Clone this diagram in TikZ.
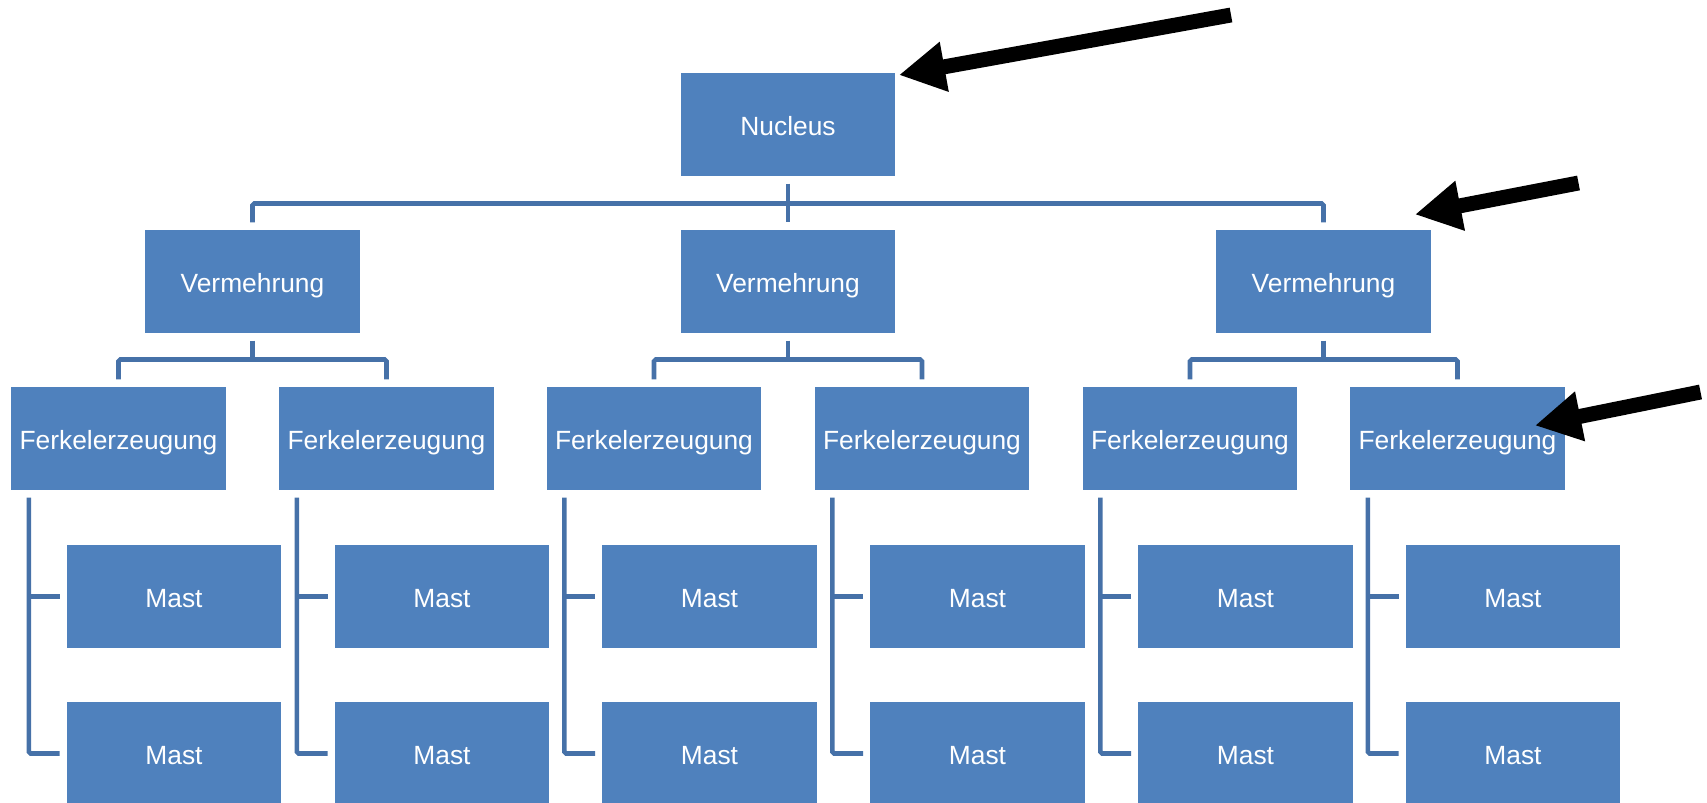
\documentclass[tikz,border=0pt]{standalone}
\usepackage{fontspec}
\setmainfont{Liberation Sans}
\usetikzlibrary{arrows.meta}
\definecolor{boxblue}{HTML}{4F81BD}
\definecolor{lineblue}{HTML}{4671A8}

\begin{document}
\begin{tikzpicture}
\tikzset{b/.style={rectangle,fill=boxblue,draw=white,line width=0.5pt,minimum width=4.31cm,minimum height=2.07cm,inner sep=0pt,text height=12pt,text depth=0pt,text=white,font=\fontsize{15}{18}\selectfont}}
\tikzset{c/.style={draw=lineblue,line width=2.6pt,rounded corners=1pt,shorten <=4pt,shorten >=4pt}}
\tikzset{p/.style={line width=8.5pt,-{Triangle[length=0.92cm,width=0.95cm]}}}

\useasboundingbox (0,0) rectangle (34.14,-16.06);

\path (15.76,-2.49) node[b] (n) {Nucleus};

\path (5.05,-5.63) node[b] (v1) {Vermehrung};
\path (15.76,-5.63) node[b] (v2) {Vermehrung};
\path (26.47,-5.63) node[b] (v3) {Vermehrung};

\path (2.37,-8.77) node[b] (f1) {Ferkelerzeugung};
\path (7.73,-8.77) node[b] (f2) {Ferkelerzeugung};
\path (13.08,-8.77) node[b] (f3) {Ferkelerzeugung};
\path (18.44,-8.77) node[b] (f4) {Ferkelerzeugung};
\path (23.80,-8.77) node[b] (f5) {Ferkelerzeugung};
\path (29.15,-8.77) node[b] (f6) {Ferkelerzeugung};

\path (3.48,-11.93) node[b] (m1a) {Mast};
\path (3.48,-15.07) node[b] (m1b) {Mast};
\path (8.84,-11.93) node[b] (m2a) {Mast};
\path (8.84,-15.07) node[b] (m2b) {Mast};
\path (14.19,-11.93) node[b] (m3a) {Mast};
\path (14.19,-15.07) node[b] (m3b) {Mast};
\path (19.55,-11.93) node[b] (m4a) {Mast};
\path (19.55,-15.07) node[b] (m4b) {Mast};
\path (24.91,-11.93) node[b] (m5a) {Mast};
\path (24.91,-15.07) node[b] (m5b) {Mast};
\path (30.26,-11.93) node[b] (m6a) {Mast};
\path (30.26,-15.07) node[b] (m6b) {Mast};

% bars
\coordinate (bar0) at (15.76,-4.07);
\coordinate (bar1) at (5.05,-7.19);
\coordinate (bar2) at (15.76,-7.19);
\coordinate (bar3) at (26.47,-7.19);

\draw[c] (n.south) -- (v2.north);
\draw[c] (v1.north) |- (bar0) -| (v3.north);

\draw[c,shorten >=0pt] (v1.south) -- (bar1);
\draw[c] (f1.north) |- (bar1) -| (f2.north);
\draw[c,shorten >=0pt] (v2.south) -- (bar2);
\draw[c] (f3.north) |- (bar2) -| (f4.north);
\draw[c,shorten >=0pt] (v3.south) -- (bar3);
\draw[c] (f5.north) |- (bar3) -| (f6.north);

% side lines
\coordinate (f1x) at ([xshift=0.37cm]f1.south west);
\coordinate (f2x) at ([xshift=0.37cm]f2.south west);
\coordinate (f3x) at ([xshift=0.37cm]f3.south west);
\coordinate (f4x) at ([xshift=0.37cm]f4.south west);
\coordinate (f5x) at ([xshift=0.37cm]f5.south west);
\coordinate (f6x) at ([xshift=0.37cm]f6.south west);

\draw[c,shorten >=3.5pt] (f1x) |- (m1b.west);
\draw[c,shorten <=0pt,shorten >=3.5pt] (f1x |- m1a.west) -- (m1a.west);
\draw[c,shorten >=3.5pt] (f2x) |- (m2b.west);
\draw[c,shorten <=0pt,shorten >=3.5pt] (f2x |- m2a.west) -- (m2a.west);
\draw[c,shorten >=3.5pt] (f3x) |- (m3b.west);
\draw[c,shorten <=0pt,shorten >=3.5pt] (f3x |- m3a.west) -- (m3a.west);
\draw[c,shorten >=3.5pt] (f4x) |- (m4b.west);
\draw[c,shorten <=0pt,shorten >=3.5pt] (f4x |- m4a.west) -- (m4a.west);
\draw[c,shorten >=3.5pt] (f5x) |- (m5b.west);
\draw[c,shorten <=0pt,shorten >=3.5pt] (f5x |- m5a.west) -- (m5a.west);
\draw[c,shorten >=3.5pt] (f6x) |- (m6b.west);
\draw[c,shorten <=0pt,shorten >=3.5pt] (f6x |- m6a.west) -- (m6a.west);

% black arrows
\coordinate (t1) at (24.62,-0.30);
\coordinate (h1) at (17.98,-1.50);
\coordinate (t2) at (31.57,-3.66);
\coordinate (h2) at (28.30,-4.29);
\coordinate (t3) at (34.01,-7.84);
\coordinate (h3) at (30.70,-8.51);

\draw[p] (t1) -- (h1);
\draw[p] (t2) -- (h2);
\draw[p] (t3) -- (h3);

\end{tikzpicture}
\end{document}
